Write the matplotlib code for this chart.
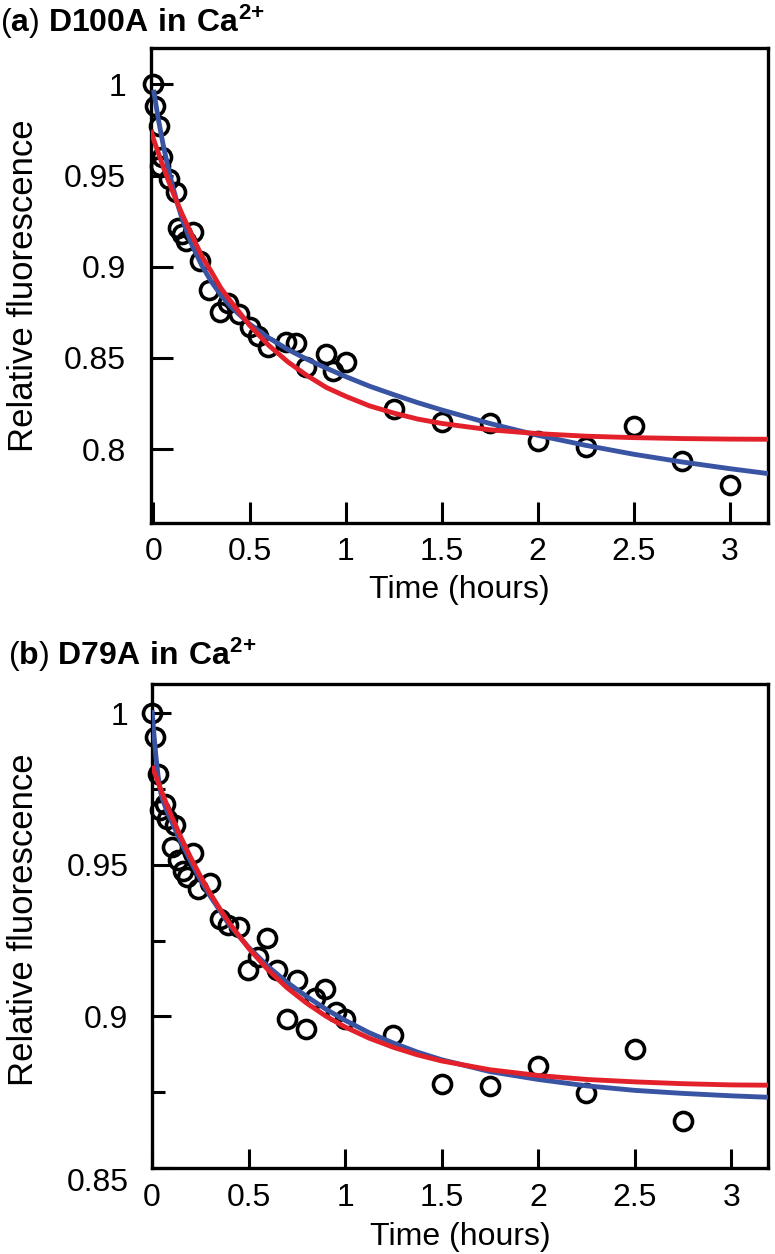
import numpy as np
import matplotlib
matplotlib.use("Agg")
import matplotlib.pyplot as plt

plt.rcParams['font.family'] = ['Liberation Sans', 'DejaVu Sans']
plt.rcParams['mathtext.fontset'] = 'custom'
plt.rcParams['mathtext.rm'] = 'Liberation Sans'
plt.rcParams['mathtext.bf'] = 'Liberation Sans:bold'

# -----------------------------
# data
# -----------------------------
# (a) D100A in Ca2+
t_a = [0, 0.01, 0.03, 0.045, 0.035, 0.083, 0.115, 0.13, 0.15, 0.17, 0.205,
       0.24, 0.29, 0.344, 0.387, 0.444, 0.5, 0.543, 0.595, 0.69, 0.743,
       0.795, 0.9, 0.934, 1.0, 1.25, 1.5, 1.75, 2.0, 2.25, 2.5, 2.75, 3.0]
f_a = [1.0, 0.988, 0.977, 0.960, 0.955, 0.948, 0.941, 0.921, 0.918, 0.914, 0.919,
       0.903, 0.887, 0.875, 0.880, 0.874, 0.867, 0.862, 0.856, 0.859, 0.858,
       0.845, 0.852, 0.843, 0.848, 0.822, 0.815, 0.8145, 0.8044, 0.8013, 0.8128, 0.7937, 0.7803]

# fitted curves (a), read at these times
fit_t_a = [0, 0.025, 0.05, 0.075, 0.1, 0.125, 0.15, 0.2, 0.25, 0.3, 0.35, 0.4, 0.5,
           0.6, 0.7, 0.8, 0.9, 1.0, 1.125, 1.25, 1.375, 1.5, 1.75, 2.0, 2.25, 2.5,
           2.75, 3.0, 3.2]
blue_a = [0.997, 0.981, 0.967, 0.9547, 0.944, 0.9345, 0.926, 0.912, 0.901, 0.892,
          0.8846, 0.8784, 0.8686, 0.861, 0.8546, 0.8492, 0.8444, 0.8398, 0.8345,
          0.8299, 0.8255, 0.8215, 0.8141, 0.8076, 0.8021, 0.7972, 0.7930, 0.7893, 0.7866]
red_t_a = [-0.013] + fit_t_a
red_a = [0.975, 0.970, 0.9624, 0.955, 0.9479, 0.9411, 0.9347, 0.9286, 0.9173, 0.9061,
         0.8975, 0.8884, 0.8813, 0.8679, 0.8569, 0.8478, 0.8403, 0.8338, 0.829,
         0.8237, 0.8198, 0.8165, 0.8141, 0.8106, 0.8085, 0.8071, 0.8063, 0.8058,
         0.8055, 0.8054]

# (b) D79A in Ca2+
t_b = [0, 0.016, 0.033, 0.041, 0.067, 0.076, 0.102, 0.119, 0.136, 0.162, 0.18,
       0.214, 0.24, 0.30, 0.352, 0.395, 0.452, 0.498, 0.55, 0.593, 0.645, 0.697,
       0.749, 0.80, 0.845, 0.895, 0.955, 1.0, 1.25, 1.5, 1.75, 2.0, 2.25, 2.5, 2.75]
f_b = [1.0, 0.992, 0.980, 0.968, 0.970, 0.965, 0.956, 0.963, 0.9515, 0.948, 0.946,
       0.954, 0.942, 0.944, 0.932, 0.930, 0.9295, 0.9153, 0.9197, 0.9257, 0.9153, 0.899,
       0.912, 0.896, 0.906, 0.909, 0.9015, 0.899, 0.894, 0.8777, 0.8771, 0.8836, 0.8748,
       0.8894, 0.8656]

fit_t_b = [0, 0.01, 0.02, 0.03, 0.04, 0.05, 0.075, 0.1, 0.125, 0.15, 0.2, 0.25, 0.3,
           0.35, 0.4, 0.5, 0.6, 0.7, 0.8, 0.9, 1.0, 1.125, 1.25, 1.375, 1.5, 1.75,
           2.0, 2.25, 2.5, 2.75, 3.0, 3.2]
blue_b = [1.001, 0.993, 0.986, 0.980, 0.9755, 0.9725, 0.968, 0.9645, 0.961, 0.9575,
          0.9512, 0.9451, 0.9398, 0.935, 0.9302, 0.9228, 0.9165, 0.9112, 0.9066,
          0.9024, 0.8987, 0.8946, 0.8912, 0.8882, 0.8857, 0.8818, 0.8792, 0.8771,
          0.8756, 0.8746, 0.8738, 0.8733]
red_t_b = [0, 0.025, 0.05, 0.075, 0.1, 0.125, 0.15, 0.2, 0.25, 0.3, 0.35, 0.4, 0.5,
           0.6, 0.7, 0.8, 0.9, 1.0, 1.125, 1.25, 1.375, 1.5, 1.75, 2.0, 2.25, 2.5,
           2.75, 3.0, 3.2]
red_b = [0.9826, 0.9783, 0.9741, 0.9701, 0.9662, 0.9626, 0.959, 0.9524, 0.9463,
         0.9407, 0.9356, 0.9308, 0.9225, 0.9154, 0.9094, 0.9044, 0.9001, 0.8965,
         0.8928, 0.8898, 0.8873, 0.8853, 0.8824, 0.8805, 0.8792, 0.8784, 0.8778,
         0.8774, 0.8773]

x_ticks = [0, 0.5, 1, 1.5, 2, 2.5, 3]
x_labels = ["0", "0.5", "1", "1.5", "2", "2.5", "3"]

RED = "#e3212a"
BLUE = "#3a54a4"

# -----------------------------
# figure
# -----------------------------
W, H = 775, 1254
fig = plt.figure(figsize=(W / 100, H / 100), dpi=100)


def px_axes(l, t, r, b):
    return fig.add_axes([l / W, 1 - b / H, (r - l) / W, (b - t) / H])


def draw_panel(ax, t, f, ft_blue, yb, ft_red, yr):
    ax.plot(t, f, "o", ms=13, mfc="none", mec="black", mew=2.6, zorder=2, clip_on=False)
    ax.plot(ft_blue, yb, color=BLUE, lw=3.5, zorder=3, solid_capstyle="butt")
    ax.plot(ft_red, yr, color=RED, lw=3.5, zorder=4, solid_capstyle="butt")
    for s in ax.spines.values():
        s.set_linewidth(2.4)
    ax.set_xticks(x_ticks)
    ax.set_xticklabels(x_labels)
    ax.tick_params(labelsize=23)
    ax.set_xlabel("Time (hours)", fontsize=23, labelpad=6)


# ---- panel (a)
ax_a = px_axes(151, 48, 768, 523)
draw_panel(ax_a, t_a, f_a, fit_t_a, blue_a, red_t_a, red_a)
ax_a.set_xlim(-0.013, 3.2)
ax_a.set_ylim(0.7595, 1.0199)
ax_a.set_yticks([0.8, 0.85, 0.9, 0.95, 1.0])
ax_a.set_yticklabels(["0.8", "0.85", "0.9", "0.95", "1"])
ax_a.tick_params(axis="y", direction="in", length=16, width=2.2, pad=18)
ax_a.tick_params(axis="x", direction="in", length=15, width=2.2, pad=10)
ax_a.set_ylabel("Relative fluorescence", fontsize=25)
ax_a.yaxis.set_label_coords(-0.18, 0.5)

# ---- panel (b)
ax_b = px_axes(152, 684, 768, 1168)
draw_panel(ax_b, t_b, f_b, fit_t_b, blue_b, red_t_b, red_b)
ax_b.set_xlim(0, 3.19)
ax_b.set_ylim(0.85, 1.0096)
ax_b.set_yticks([0.85, 0.9, 0.95, 1.0])
ax_b.set_yticklabels(["0.85", "0.9", "0.95", "1"])
ax_b.set_yticks([0.875, 0.925, 0.975], minor=True)
ax_b.tick_params(axis="y", which="major", direction="in", length=14, width=2.2, pad=17)
ax_b.tick_params(axis="y", which="minor", direction="in", length=9.5, width=2.2)
ax_b.tick_params(axis="x", direction="in", length=14, width=2.2, pad=11)
ax_b.get_yticklabels()[0].set_va("top")
ax_b.set_ylabel("Relative fluorescence", fontsize=25)
ax_b.yaxis.set_label_coords(-0.182, 0.514)

# ---- panel titles
fig.text(0 / W, 1 - 32 / H, r"($\mathbf{a}$) $\mathbf{D100A\ in\ Ca^{2{+}}}$",
         fontsize=23, ha="left", va="baseline")
fig.text(8 / W, 1 - 665 / H, r"($\mathbf{b}$) $\mathbf{D79A\ in\ Ca^{2{+}}}$",
         fontsize=23, ha="left", va="baseline")

fig.savefig("out.png", dpi=100)
